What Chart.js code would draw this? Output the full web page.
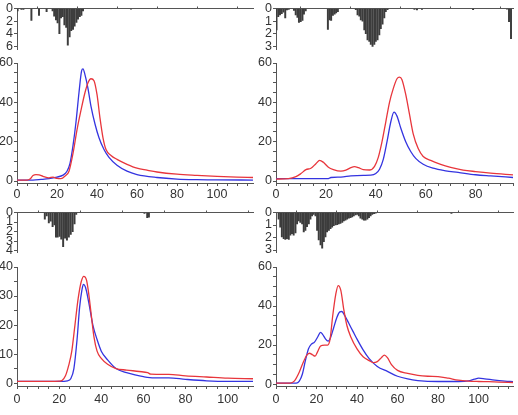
<!DOCTYPE html>
<html>
<head>
<meta charset="utf-8">
<script src="https://cdn.jsdelivr.net/npm/chart.js@4.4.0/dist/chart.umd.min.js"></script>
<style>
  html, body { margin: 0; padding: 0; background: #fff; }
  body { width: 518px; height: 415px; position: relative; overflow: hidden; }
  canvas { position: absolute; }
</style>
</head>
<body>
<canvas id="barTL" width="258" height="58" style="left:0;top:0"></canvas>
<canvas id="lineTL" width="258" height="152" style="left:0;top:53px"></canvas>
<canvas id="barTR" width="260" height="58" style="left:258px;top:0"></canvas>
<canvas id="lineTR" width="260" height="152" style="left:258px;top:53px"></canvas>
<canvas id="barBL" width="258" height="57" style="left:0;top:204px"></canvas>
<canvas id="lineBL" width="258" height="158" style="left:0;top:257px"></canvas>
<canvas id="barBR" width="260" height="57" style="left:258px;top:204px"></canvas>
<canvas id="lineBR" width="260" height="158" style="left:258px;top:257px"></canvas>
<script>
// ---- top-left panel ----
const tlRed = [[0,0.5],[5,0.5],[6.5,1],[8,2.8],[9.5,3.3],[11,3.1],[13,2.4],[16,1.6],[18,2],[20,1.3],[22,1.2],[24,2.5],[26,5],[28,14],[30,26],[32,36],[34,45],[35.5,50],[37,52],[38.5,51],[40,44],[41.5,32],[43,22],[44.5,16],[47,13],[50,11],[55,8.5],[60,6.5],[65,5.5],[70,4.6],[80,3.5],[90,2.9],[100,2.4],[110,2],[118,1.8]];
const tlBlue = [[0,0.5],[8,0.5],[12,0.8],[16,1.2],[20,2],[23,3],[25,5],[26.5,9],[28,18],[29.5,30],[31,45],[32.3,56],[33,57],[34,54],[35.5,47],[37,38],[39,29],[41,22],[43.5,16],[46,12],[50,8],[55,5],[60,3.3],[70,1.8],[80,1],[90,0.7],[100,0.6],[118,0.5]];
const tlBarX = [0.3,2.2,3.2,7.2,11.0,14.8,17.8,18.6,19.5,20.3,21.2,22.0,22.9,23.7,24.6,25.4,26.3,27.1,28.0,28.8,29.7,30.5,31.4,32.2,33.0,57.0];
const tlBarY = [0.4,0.15,0.15,1.9,1.1,0.5,0.4,1.2,1.8,2.3,4.0,1.5,1.3,2.6,3.0,5.8,4.5,3.5,3.3,2.8,2.2,1.7,1.3,1.1,0.4,0.1];
const tlXLabels = [0,20,40,60,80,100];
const tlYLabels = [0,20,40,60];
const tlBarLabels = [0,2,4,6];

// ---- top-right panel ----
const trRed = [[0,1],[5,1.2],[8,2.2],[10,3.8],[12,5.8],[14,6.5],[16,8.8],[17.5,10.5],[19,9.5],[21,7],[23,5.8],[26,5],[28,5.5],[30,6.8],[31.5,7.3],[33,6.8],[35,5.8],[37.5,5.6],[39.5,7.5],[41,12],[42.5,20],[44,30],[45.5,40],[47,47],[48.5,52],[49.5,52.8],[50.5,51.5],[52,44],[53.5,34],[55,24],[57,16.5],[59,12.5],[62,10.5],[66,8.5],[70,7],[75,5.6],[80,4.8],[86,4],[95,3.1]];
const trBlue = [[0,1.2],[10,1.2],[21,1.2],[22,1.8],[26,2],[30,2.6],[35,2.9],[38,3],[40,3.8],[41.5,6],[43,11],[44.5,20],[46,30],[47.3,35],[48.5,33],[50,27],[52,20],[54,15],[56,11.5],[59,8.5],[63,6.5],[68,5.2],[73,4.4],[80,3.2],[86,2.6],[95,1.8]];
const trBarX = [0.2,0.9,1.6,2.3,3.0,3.7,4.4,5.1,7.2,7.9,8.6,9.2,9.9,10.6,11.2,11.9,20.8,21.5,22.1,22.8,23.5,24.1,24.8,32.0,32.7,33.4,34.0,34.7,35.4,36.0,36.7,37.4,38.0,38.7,39.4,40.0,40.7,41.4,42.0,42.7,43.4,44.0,44.7,55.5,56.5,58.5,79.0,92.6,93.4,94.2];
const trBarY = [1.7,0.65,0.5,0.4,0.3,0.75,0.12,0.08,0.15,0.5,0.7,1.1,1.05,0.95,0.45,0.2,1.65,0.9,0.95,0.55,0.45,0.35,0.25,0.1,0.5,0.6,0.9,1.0,1.7,2.0,2.5,2.6,2.85,3.0,2.85,2.6,2.5,2.1,1.6,1.25,0.75,0.25,0.1,0.08,0.12,0.08,0.1,0.06,1.05,2.4];
const trXLabels = [0,20,40,60,80];
const trYLabels = [0,20,40,60];
const trBarLabels = [0,1,2,3];

// ---- bottom-left panel ----
const blRed = [[0,0.6],[15,0.6],[20,0.7],[21.5,1],[23,2.5],[24.5,6],[26,11],[27.5,20],[29,29],[30.5,35],[31.7,36.8],[33,35.5],[34,31],[35,25],[36.5,16],[38,11],[40,8.5],[43,6.5],[47,5],[52,4.5],[58,4],[62,3.6],[63.5,3.1],[72,3],[80,2.5],[90,2.1],[100,1.7],[112,1.5]];
const blBlue = [[0,0.6],[20,0.6],[24,0.8],[25.5,1.5],[27,5],[28.5,15],[29.7,26],[30.8,32],[31.5,34],[32.5,33],[34,28],[36,20],[38,15],[40,11],[43,8],[47,5],[52,3.6],[56,2.8],[60,2.2],[65,1.8],[72,1.8],[80,1.3],[90,0.8],[100,0.6],[112,0.6]];
const blBarX = [13.2,14.1,15.1,16.0,16.9,17.8,18.5,19.3,20.2,21.0,21.9,22.8,23.7,24.6,25.5,26.4,27.3,28.1,60.5,61.8,62.6];
const blBarY = [0.7,0.35,1.1,0.9,1.5,1.3,2.6,2.6,2.5,2.8,3.6,2.7,2.9,2.6,2.3,2.0,1.2,0.2,0.1,0.55,0.5];
const blXLabels = [0,20,40,60,80,100];
const blYLabels = [0,10,20,30,40];
const blBarLabels = [0,1,2,3,4];

// ---- bottom-right panel ----
const brRed = [[0,0.5],[7,0.5],[9,1.5],[11,5],[13,10],[15,14.5],[16.5,15.8],[18,15],[19.3,14.3],[20.5,16.5],[22,19.5],[24,20],[25.5,20],[26.7,23],[28,35],[29.5,46],[30.7,50.5],[32,48],[33.5,38],[35,30],[37,24],[40,18],[43,14],[46,12],[48,11],[50,11.5],[52,13.5],[53.5,14.8],[55,13.5],[57,10],[60,7],[65,5.5],[70,4.5],[75,4],[80,3.8],[85,3],[90,2],[95,1.5],[100,1.3],[105,1.2],[110,1],[117,0.8]];
const brBlue = [[0,0.5],[10,0.5],[11.5,1.5],[13,5],[14.5,12],[16,18],[17.5,20.5],[19,21.5],[20.5,24],[22,26.5],[23,25.5],[24.5,23],[25.7,22],[27,24],[28.5,29],[30,34],[31.5,37],[32.5,37.2],[34,35],[36,31],[38,27],[40,23],[43,17.5],[46,13],[50,9],[55,6.5],[60,4],[65,2.6],[70,1.8],[80,1.3],[90,1.3],[95,1.6],[98,2.5],[100,3],[103,2.7],[108,2],[113,1.5],[117,1.2]];
const brBarX = [1.3,2.1,2.9,3.8,4.6,5.4,6.3,7.1,7.9,8.7,9.6,10.4,11.2,12.0,12.9,13.7,14.5,15.3,16.2,17.0,17.8,18.6,19.5,20.3,21.1,22.0,22.8,23.6,24.4,25.2,26.1,26.9,27.7,28.5,29.4,30.2,31.0,31.8,32.7,33.5,34.3,35.1,36.0,36.8,37.6,38.4,39.3,40.1,40.9,41.7,42.6,43.4,44.2,45.1,45.9,46.7,47.5,48.4,49.2,86.6];
const brBarY = [0.54,1.18,1.95,2.1,2.15,2.1,2.15,1.82,1.7,1.82,1.64,0.92,0.67,0.8,0.92,1.56,1.44,1.13,0.92,0.54,0.28,0.15,0.28,1.44,2.2,2.6,2.85,2.33,1.95,1.56,1.44,1.3,1.18,1.05,1.0,0.97,0.92,0.87,0.8,0.67,0.62,0.54,0.46,0.41,0.36,0.28,0.2,0.15,0.28,0.46,0.54,0.62,0.62,0.54,0.41,0.28,0.15,0.1,0.05,0.08];
const brXLabels = [0,20,40,60,80,100];
const brYLabels = [0,20,40,60];
const brBarLabels = [0,1,2,3];

const RED = "#e8363c";
const BLUE = "#3434e0";
const AXIS = "#555";
const TEXT = "#333";
const FONT = { family: "'Liberation Sans', Arial, sans-serif", size: 12.5 };

function tickValues(max, step) {
  const out = [];
  for (let v = 0; v <= max + 1e-9; v += step) out.push({ value: v });
  return out;
}

function lineChart(id, o) {
  new Chart(document.getElementById(id), {
    type: "line",
    data: {
      datasets: [
        { data: o.red, borderColor: RED, borderWidth: 1.3, pointRadius: 0, cubicInterpolationMode: "monotone" },
        { data: o.blue, borderColor: BLUE, borderWidth: 1.3, pointRadius: 0, cubicInterpolationMode: "monotone" }
      ]
    },
    options: {
      responsive: false,
      animation: false,
      layout: { autoPadding: false, padding: { top: 10, right: o.right, bottom: 0, left: 0 } },
      plugins: { legend: { display: false }, tooltip: { enabled: false } },
      scales: {
        x: {
          type: "linear", min: 0, max: o.xMax,
          afterBuildTicks: a => { a.ticks = tickValues(o.xMax, 5); },
          afterFit: s => { s.height = o.xH; },
          grid: { drawOnChartArea: false, tickLength: 3, color: AXIS },
          border: { color: AXIS },
          ticks: { autoSkip: false, maxRotation: 0, padding: o.xPad, color: TEXT, font: FONT,
            callback: v => o.xLabels.includes(v) ? String(v) : "" }
        },
        y: {
          min: -1, max: o.yMax,
          afterBuildTicks: a => { a.ticks = tickValues(o.yMax, 5); },
          afterFit: s => { s.width = o.yW; },
          grid: { drawOnChartArea: false, tickLength: 3, color: AXIS },
          border: { color: AXIS },
          ticks: { autoSkip: false, padding: 1, color: TEXT, font: FONT,
            callback: v => o.yLabels.includes(v) ? String(v) : "" }
        }
      }
    }
  });
}

function barChart(id, o) {
  new Chart(document.getElementById(id), {
    type: "bar",
    data: {
      datasets: [{
        data: o.xs.map((x, i) => ({ x, y: o.ys[i] })),
        backgroundColor: "#3c3c3c",
        borderWidth: 0,
        barThickness: 1.3
      }]
    },
    options: {
      responsive: false,
      animation: false,
      layout: { autoPadding: false, padding: { top: 0, right: o.right, bottom: o.bottom, left: 0 } },
      plugins: { legend: { display: false }, tooltip: { enabled: false } },
      scales: {
        x: {
          type: "linear", position: "top", min: 0, max: o.xMax, offset: false,
          afterBuildTicks: a => { a.ticks = tickValues(o.xMax, 20); },
          afterFit: s => { s.height = 6; },
          grid: { drawOnChartArea: false, tickLength: 2, color: AXIS },
          border: { color: AXIS },
          ticks: { display: false }
        },
        y: {
          reverse: true, min: 0, max: o.yMax,
          afterBuildTicks: a => { a.ticks = o.labels.map(v => ({ value: v })); },
          afterFit: s => { s.width = o.yW; },
          grid: { drawOnChartArea: false, tickLength: 3, color: AXIS },
          border: { color: AXIS },
          ticks: { autoSkip: false, padding: 1, color: TEXT, font: FONT }
        }
      }
    }
  });
}

barChart("barTL", { xs: tlBarX, ys: tlBarY, labels: tlBarLabels, xMax: 118, yMax: 6.5, yW: 17, right: 5, bottom: 8 });
lineChart("lineTL", { red: tlRed, blue: tlBlue, xLabels: tlXLabels, yLabels: tlYLabels, xMax: 118, yMax: 60, yW: 17, right: 5, xH: 22, xPad: 1 });

barChart("barTR", { xs: trBarX, ys: trBarY, labels: trBarLabels, xMax: 95, yMax: 3.25, yW: 18, right: 5, bottom: 8 });
lineChart("lineTR", { red: trRed, blue: trBlue, xLabels: trXLabels, yLabels: trYLabels, xMax: 95, yMax: 60, yW: 18, right: 5, xH: 22, xPad: 1 });

barChart("barBL", { xs: blBarX, ys: blBarY, labels: blBarLabels, xMax: 112, yMax: 4.2, yW: 17, right: 5, bottom: 4 });
lineChart("lineBL", { red: blRed, blue: blBlue, xLabels: blXLabels, yLabels: blYLabels, xMax: 112, yMax: 40, yW: 17, right: 5, xH: 29, xPad: 3 });

barChart("barBR", { xs: brBarX, ys: brBarY, labels: brBarLabels, xMax: 117, yMax: 3.2, yW: 18, right: 5, bottom: 4 });
lineChart("lineBR", { red: brRed, blue: brBlue, xLabels: brXLabels, yLabels: brYLabels, xMax: 117, yMax: 60, yW: 18, right: 5, xH: 29, xPad: 3 });
</script>
</body>
</html>
